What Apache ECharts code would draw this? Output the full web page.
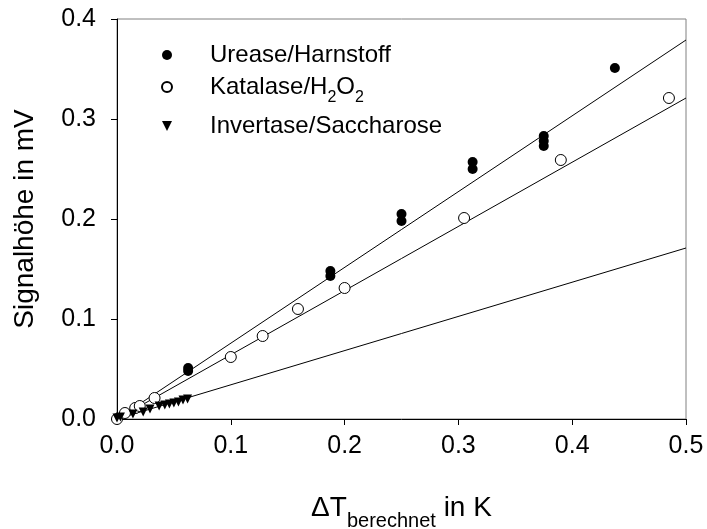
<!DOCTYPE html>
<html>
<head>
<meta charset="utf-8">
<script src="https://cdn.jsdelivr.net/npm/echarts@6/dist/echarts.min.js"></script>
<style>
  html, body { margin: 0; padding: 0; background: #fff; }
  #chart { width: 707px; height: 529px; }
</style>
</head>
<body>
<div id="chart"></div>
<script>
// measured points
var ureaseX = [0.0625, 0.0625, 0.1875, 0.1875, 0.25, 0.25, 0.3125, 0.3125, 0.375, 0.375, 0.375, 0.4375];
var ureaseY = [0.048, 0.051, 0.143, 0.148, 0.198, 0.205, 0.250, 0.257, 0.273, 0.278, 0.283, 0.351];

var katalaseX = [0, 0.007, 0.016, 0.020, 0.033, 0.100, 0.128, 0.159, 0.200, 0.305, 0.390, 0.485];
var katalaseY = [0, 0.006, 0.011, 0.013, 0.021, 0.062, 0.083, 0.110, 0.131, 0.201, 0.259, 0.321];

var invertaseX = [0, 0.003, 0.014, 0.023, 0.029, 0.037, 0.042, 0.046, 0.050, 0.054, 0.058, 0.062];
var invertaseY = [0.001, 0.002, 0.005, 0.007, 0.010, 0.013, 0.014, 0.015, 0.016, 0.017, 0.019, 0.020];

// regression lines (through origin)
var fitX = [0, 0.5];
var ureaseFit = [0, 0.379];
var katalaseFit = [0, 0.321];
var invertaseFit = [0, 0.171];

var seriesNames = ['Urease/Harnstoff', 'Katalase/H2O2', 'Invertase/Saccharose'];

function pairs(xs, ys) {
    return xs.map(function (x, i) { return [x, ys[i]]; });
}

var font = 'Liberation Sans, Arial, sans-serif';
var triangleDown = 'path://M0,0L10,0L5,10Z';

var chart = echarts.init(document.getElementById('chart'));

chart.setOption({
    animation: false,
    textStyle: { fontFamily: font, color: '#000' },
    grid: {
        left: 117, right: 21, top: 19, bottom: 110,
        containLabel: false,
        outerBoundsMode: 'none',
        show: true, borderColor: '#808080', borderWidth: 1
    },
    legend: {
        orient: 'vertical',
        left: 156,
        top: 38,
        itemWidth: 10,
        itemHeight: 10,
        itemGap: 8,
        data: [
            {name: seriesNames[0], icon: 'circle'},
            {name: seriesNames[1], icon: 'circle'},
            {name: seriesNames[2], icon: triangleDown}
        ],
        formatter: function (name) {
            if (name === 'Katalase/H2O2') {
                return '{sp|}{n|Katalase/H}{s|2}{n|O}{s|2}';
            }
            return '{sp|}{n|' + name + '}';
        },
        textStyle: {
            rich: {
                sp: {width: 33, height: 26},
                n: {fontSize: 24, fontFamily: font, color: '#000', lineHeight: 26, verticalAlign: 'middle'},
                s: {fontSize: 16, fontFamily: font, color: '#000', lineHeight: 16, verticalAlign: 'bottom', padding: [0, 0, -6, 0]}
            }
        }
    },
    xAxis: {
        type: 'value',
        min: 0, max: 0.5, interval: 0.1,
        name: '{n|ΔT}{s|berechnet}{n| in K}',
        nameLocation: 'middle',
        nameGap: 74,
        nameTextStyle: {
            rich: {
                n: {fontSize: 28, fontFamily: font, color: '#000', lineHeight: 30},
                s: {fontSize: 20, fontFamily: font, color: '#000', verticalAlign: 'bottom', lineHeight: 20, padding: [0, 0, -8, 0]}
            }
        },
        axisLine: { lineStyle: { color: '#000', width: 1 } },
        axisTick: { inside: false, length: 6, lineStyle: { color: '#000' } },
        axisLabel: {
            fontSize: 25, color: '#000', margin: 15,
            formatter: function (v) { return v.toFixed(1); }
        },
        splitLine: { show: false }
    },
    yAxis: {
        type: 'value',
        min: 0, max: 0.4, interval: 0.1,
        name: 'Signalhöhe in mV',
        nameLocation: 'middle',
        nameGap: 78,
        nameTextStyle: { fontSize: 28, color: '#000' },
        axisLine: { lineStyle: { color: '#000', width: 1 } },
        axisTick: { inside: false, length: 6, lineStyle: { color: '#000' } },
        axisLabel: {
            fontSize: 25, color: '#000', margin: 21,
            formatter: function (v) { return v.toFixed(1); }
        },
        splitLine: { show: false }
    },
    series: [
        {
            type: 'line', data: pairs(fitX, ureaseFit), symbol: 'none', silent: true,
            lineStyle: { color: '#000', width: 1 }, z: 1
        },
        {
            type: 'line', data: pairs(fitX, katalaseFit), symbol: 'none', silent: true,
            lineStyle: { color: '#000', width: 1 }, z: 1
        },
        {
            type: 'line', data: pairs(fitX, invertaseFit), symbol: 'none', silent: true,
            lineStyle: { color: '#000', width: 1 }, z: 1
        },
        {
            name: seriesNames[0], type: 'scatter', symbol: 'circle', symbolSize: 10,
            data: pairs(ureaseX, ureaseY),
            itemStyle: { color: '#000', opacity: 1 }, z: 3
        },
        {
            name: seriesNames[1], type: 'scatter', symbol: 'circle', symbolSize: 11,
            data: pairs(katalaseX, katalaseY),
            itemStyle: { color: '#fff', borderColor: '#000', borderWidth: 1, opacity: 1 }, z: 3
        },
        {
            name: seriesNames[2], type: 'scatter', symbol: triangleDown, symbolSize: 9,
            data: pairs(invertaseX, invertaseY),
            itemStyle: { color: '#000', opacity: 1 }, z: 3
        }
    ]
});
</script>
</body>
</html>
